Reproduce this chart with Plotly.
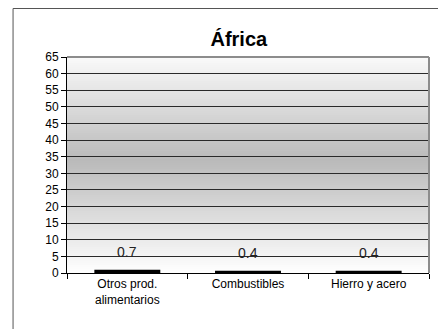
import plotly.graph_objects as go

categories = ["Otros prod.<br>alimentarios", "Combustibles", "Hierro y acero"]
values = [0.7, 0.4, 0.4]
labels = ["0.7", "0.4", "0.4"]
y_ticks = list(range(0, 70, 5))

FONT = "Liberation Sans Narrow, Arial Narrow, Liberation Sans, Arial, sans-serif"

fig = go.Figure()
fig.add_trace(go.Bar(
    x=categories, y=values, width=0.53,
    marker=dict(color="black", line=dict(color="black", width=2)),
    hoverinfo="skip",
))

for c, v, t in zip(categories, values, labels):
    fig.add_annotation(x=c, y=v, text=t, showarrow=False, yanchor="bottom",
                       yshift=9, font=dict(family=FONT, size=14, color="#222"))

# gradient background bands
n = 108
shapes = []
for i in range(n):
    f = (i + 0.5) / n
    v = int(round(186 + 69 * (abs(2 * f - 1.04) / 1.04)))
    v = max(0, min(255, v))
    col = f"rgb({v},{v},{v})"
    shapes.append(dict(type="rect", xref="x domain", yref="y domain",
                       x0=0, x1=1, y0=i / n, y1=(i + 1.3) / n,
                       fillcolor=col, line=dict(width=0), layer="below"))
# plot area border (gray, top and right)
shapes.append(dict(type="line", xref="x domain", yref="y domain", x0=0, x1=1, y0=1, y1=1,
                   line=dict(color="#8c8c8c", width=2), layer="above"))
shapes.append(dict(type="line", xref="x domain", yref="y domain", x0=1, x1=1, y0=0, y1=1,
                   line=dict(color="#8c8c8c", width=2), layer="above"))
# outer chart border
shapes.append(dict(type="line", xref="paper", yref="paper", x0=-0.149, x1=1.2, y0=1.2245, y1=1.2245,
                   line=dict(color="#555", width=1)))
shapes.append(dict(type="line", xref="paper", yref="paper", x0=-0.149, x1=-0.149, y0=1.2245, y1=-0.5,
                   line=dict(color="#555", width=1)))

fig.update_layout(
    width=438, height=321,
    margin=dict(l=59, r=17, t=49, b=56),
    paper_bgcolor="white", plot_bgcolor="rgba(0,0,0,0)",
    showlegend=False,
    shapes=shapes,
    title=dict(text="<b>África</b>", x=0.527, xanchor="center", y=0.903, yanchor="middle",
               font=dict(family=FONT, size=20, color="black")),
    font=dict(family=FONT, size=12, color="black"),
)
fig.update_xaxes(showline=True, linecolor="black", linewidth=1, ticks="outside",
                 tickson="boundaries", ticklen=5, tickcolor="black", showgrid=False,
                 tickfont=dict(family=FONT, size=12, color="black"))
fig.update_yaxes(range=[0, 65], tickvals=y_ticks, showline=True, linecolor="black", linewidth=1,
                 ticks="outside", ticklen=5, tickcolor="black", showgrid=True,
                 gridcolor="#2a2a2a", gridwidth=1, zeroline=False,
                 tickfont=dict(family=FONT, size=12, color="black"))

fig.write_html("out.html")
